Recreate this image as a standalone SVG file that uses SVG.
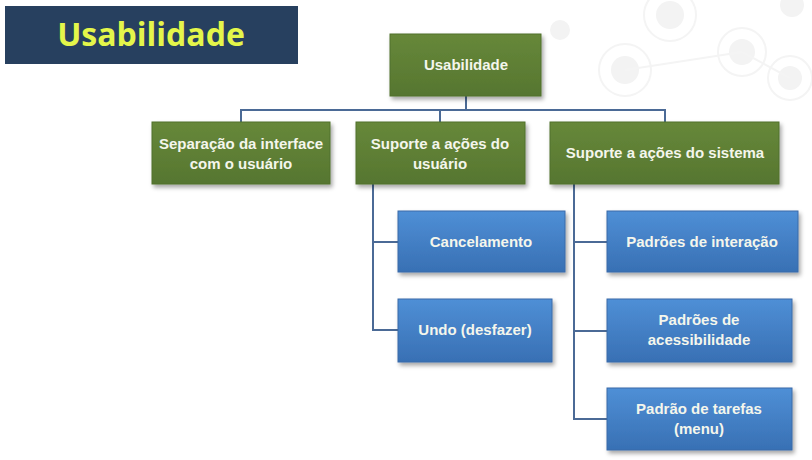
<svg xmlns="http://www.w3.org/2000/svg" width="812" height="460" viewBox="0 0 812 460">
<defs>
<linearGradient id="gG" x1="0" y1="0" x2="0" y2="1">
<stop offset="0" stop-color="#67883a"/><stop offset="1" stop-color="#567630"/>
</linearGradient>
<linearGradient id="gB" x1="0" y1="0" x2="0" y2="1">
<stop offset="0" stop-color="#4f8fd6"/><stop offset="1" stop-color="#3870b4"/>
</linearGradient>
<filter id="sh" x="-10%" y="-10%" width="125%" height="130%">
<feDropShadow dx="2" dy="3" stdDeviation="2" flood-color="#000" flood-opacity="0.35"/>
</filter>
</defs>
<style>
.g{fill:url(#gG);stroke:#50702c;stroke-width:1;filter:url(#sh)}
.b{fill:url(#gB);stroke:#3a6aa8;stroke-width:1;filter:url(#sh)}
.t{font-family:"Liberation Sans",Arial,sans-serif;font-weight:bold;font-size:15px;fill:#f4f6ec;text-anchor:middle}
.c{fill:none;stroke:#4b6a96;stroke-width:2}
.d{fill:none;stroke:#f4f4f4;stroke-width:2}
.df{fill:#f3f3f3}
</style>
<rect width="812" height="460" fill="#ffffff"/>
<g id="decor">
<circle class="df" cx="670" cy="15" r="14"/><circle class="d" cx="670" cy="15" r="26"/>
<circle class="df" cx="742" cy="52" r="13"/><circle class="d" cx="742" cy="52" r="24"/>
<circle class="df" cx="625" cy="70" r="14"/><circle class="d" cx="625" cy="70" r="26"/>
<circle class="df" cx="790" cy="78" r="12"/><circle class="d" cx="790" cy="78" r="22"/>
<circle class="df" cx="560" cy="30" r="10"/>
<circle class="df" cx="792" cy="5" r="12"/>
<line class="d" x1="625" y1="70" x2="742" y2="52"/><line class="d" x1="742" y1="52" x2="790" y2="78"/>
</g>
<g id="title">
<rect x="5" y="6" width="293" height="58" fill="#27405f"/>
<text x="151" y="46" font-family="'Open Sans','Liberation Sans',sans-serif" font-weight="bold" font-size="32" fill="#e4f64a" text-anchor="middle">Usabilidade</text>
</g>
<g id="connectors">
<path class="c" d="M466 96 V110 M241 122 V110 H665 V122 M440 110 V122"/>
<path class="c" d="M373 184 V330 H398 M373 242 H398"/>
<path class="c" d="M574 184 V419 H607 M574 242 H607 M574 331 H607"/>
</g>
<g id="root">
<rect class="g" x="390" y="34" width="151" height="62"/>
<text class="t" x="466" y="70">Usabilidade</text>
</g>
<g id="separacao">
<rect class="g" x="152" y="122" width="178" height="62"/>
<text class="t" x="241" y="149">Separação da interface</text>
<text class="t" x="241" y="169">com o usuário</text>
</g>
<g id="suporte-usuario">
<rect class="g" x="356" y="122" width="169" height="62"/>
<text class="t" x="440" y="149">Suporte a ações do</text>
<text class="t" x="440" y="169">usuário</text>
</g>
<g id="suporte-sistema">
<rect class="g" x="550" y="122" width="229" height="62"/>
<text class="t" x="665" y="158">Suporte a ações do sistema</text>
</g>
<g id="cancelamento">
<rect class="b" x="398" y="211" width="167" height="61"/>
<text class="t" x="481" y="247">Cancelamento</text>
</g>
<g id="undo">
<rect class="b" x="398" y="299" width="154" height="63"/>
<text class="t" x="475" y="335">Undo (desfazer)</text>
</g>
<g id="interacao">
<rect class="b" x="607" y="211" width="191" height="61"/>
<text class="t" x="702" y="247">Padrões de interação</text>
</g>
<g id="acessibilidade">
<rect class="b" x="607" y="299" width="185" height="63"/>
<text class="t" x="699" y="325">Padrões de</text>
<text class="t" x="699" y="345">acessibilidade</text>
</g>
<g id="tarefas">
<rect class="b" x="607" y="388" width="185" height="62"/>
<text class="t" x="699" y="414">Padrão de tarefas</text>
<text class="t" x="699" y="434">(menu)</text>
</g>
</svg>
